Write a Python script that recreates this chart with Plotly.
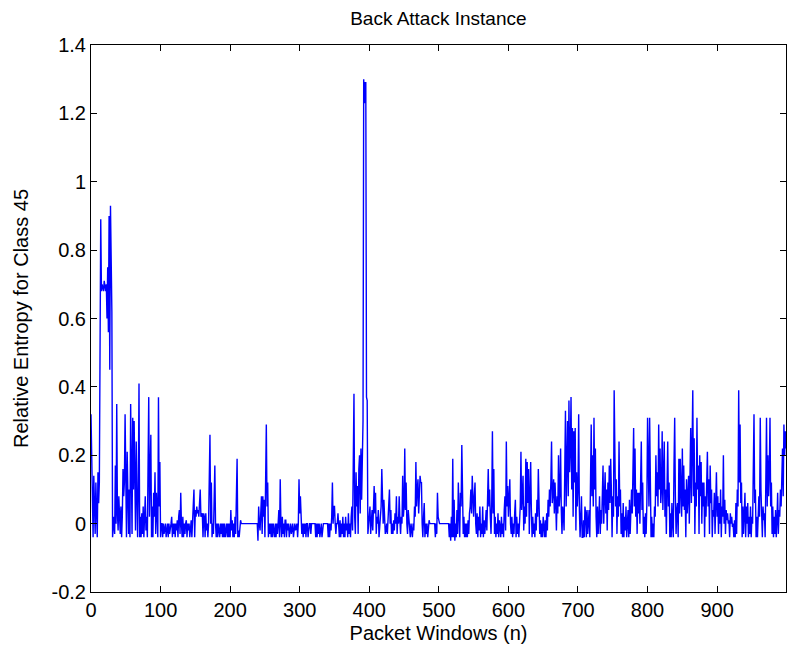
import plotly.graph_objects as go

# Relative entropy per packet window (100 windows per list)
seg_000 = [0.32, 0.15, 0.05, -0.04, 0.14, 0.02, -0.03, 0.12, 0.05, -0.04, 0.15, 0.06, 0.12, 0.55, 0.89, 0.68, 0.70, 0.69, 0.68, 0.71,
           0.69, 0.68, 0.70, 0.60, 0.75, 0.56, 0.90, 0.45, 0.93, 0.64, 0.62, -0.04, 0.00, 0.02, -0.03, 0.17, 0.00, 0.35, 0.03, -0.02,
           0.08, 0.01, -0.03, 0.05, -0.04, 0.02, 0.16, 0.08, 0.12, 0.32, 0.00, -0.04, 0.21, 0.05, -0.03, 0.10, -0.04, 0.35, 0.18, -0.03,
           0.31, 0.10, 0.30, 0.05, -0.02, 0.24, 0.08, -0.04, 0.10, 0.41, -0.04, 0.02, -0.04, 0.03, -0.03, 0.05, -0.04, 0.06, 0.08, -0.02,
           0.02, -0.04, 0.10, 0.37, 0.02, 0.15, 0.26, -0.04, 0.05, -0.04, 0.09, 0.02, 0.15, -0.03, 0.09, 0.03, -0.04, 0.37, 0.05, 0.18]
seg_100 = [-0.04, 0.00, 0.00, -0.04, 0.00, -0.03, 0.00, 0.00, -0.04, 0.00, 0.00, -0.04, 0.00, -0.03, 0.00, 0.00, 0.02, -0.04, 0.00, -0.03,
           0.00, -0.04, 0.00, -0.02, 0.01, -0.04, 0.02, 0.04, -0.03, 0.09, 0.00, -0.04, 0.02, -0.04, 0.00, -0.03, 0.00, 0.01, -0.04, 0.00,
           -0.02, 0.00, -0.04, 0.00, 0.01, -0.04, 0.00, 0.02, 0.10, -0.04, 0.04, 0.02, 0.05, 0.03, 0.04, 0.02, 0.05, 0.10, 0.02, 0.03,
           0.03, -0.04, 0.03, 0.02, -0.04, 0.03, -0.02, 0.00, -0.04, 0.00, 0.12, 0.26, 0.00, 0.12, -0.04, 0.00, -0.03, 0.11, 0.17, 0.00,
           -0.04, 0.00, -0.04, 0.00, -0.04, -0.04, 0.00, -0.03, 0.00, -0.04, 0.00, -0.04, 0.00, -0.04, -0.02, 0.00, -0.04, 0.00, -0.04, 0.00]
seg_200 = [-0.04, 0.04, -0.02, 0.01, -0.04, 0.00, -0.04, 0.02, -0.03, 0.09, 0.19, -0.04, -0.02, -0.04, 0.00, 0.01, 0.00, 0.00, 0.00, 0.00,
           0.00, 0.00, 0.00, 0.00, 0.00, 0.00, 0.00, 0.00, 0.00, 0.00, 0.00, 0.00, 0.00, 0.00, 0.00, 0.00, 0.00, 0.00, 0.00, 0.00,
           -0.05, 0.05, 0.00, -0.02, 0.03, 0.08, -0.03, 0.08, 0.02, 0.07, -0.04, 0.10, 0.29, 0.05, 0.12, -0.04, 0.00, -0.03, 0.00, -0.04,
           0.00, -0.04, 0.00, -0.02, -0.04, 0.00, -0.04, 0.00, -0.03, 0.00, 0.04, -0.04, 0.13, 0.00, -0.04, 0.02, -0.03, 0.00, -0.04, 0.01,
           0.01, -0.04, 0.00, -0.02, 0.00, -0.04, 0.00, 0.00, -0.03, 0.00, 0.00, -0.04, 0.00, 0.00, -0.02, 0.00, 0.00, -0.04, 0.00, 0.13]
seg_300 = [0.03, 0.08, 0.00, -0.03, 0.00, -0.04, 0.00, -0.03, 0.00, -0.04, 0.00, 0.00, -0.04, 0.00, 0.00, 0.00, -0.03, 0.00, 0.00, 0.00,
           0.00, 0.00, 0.00, -0.04, 0.00, -0.04, 0.00, -0.03, 0.00, -0.04, 0.00, 0.00, -0.04, 0.00, 0.00, 0.00, 0.00, 0.00, 0.00, 0.00,
           0.00, -0.04, 0.00, -0.04, 0.00, -0.02, 0.02, 0.12, 0.00, 0.05, 0.05, 0.00, -0.03, 0.00, 0.00, 0.03, 0.00, -0.04, 0.01, -0.04,
           0.00, -0.03, 0.02, -0.04, 0.00, -0.04, 0.02, -0.02, 0.00, -0.04, 0.03, -0.03, 0.00, -0.04, 0.02, 0.05, -0.02, 0.17, 0.38, 0.02,
           -0.03, 0.15, 0.05, 0.11, -0.03, 0.16, 0.20, 0.03, 0.22, 0.07, 0.26, 0.30, 1.30, 1.23, 1.29, 1.29, 0.37, 0.36, -0.03, 0.00]
seg_400 = [0.00, 0.05, -0.03, 0.03, 0.04, -0.02, 0.05, 0.11, 0.03, 0.09, -0.03, 0.02, 0.00, 0.04, -0.04, 0.00, 0.03, 0.05, 0.16, 0.04,
           0.00, 0.07, 0.00, -0.03, -0.02, 0.00, -0.03, 0.02, 0.05, 0.10, 0.00, 0.04, -0.03, 0.00, -0.03, 0.01, -0.02, 0.03, 0.00, 0.08,
           -0.03, 0.02, 0.00, 0.08, 0.01, -0.03, 0.02, 0.00, 0.14, 0.02, 0.05, 0.22, 0.04, 0.12, 0.00, -0.03, 0.04, 0.00, -0.03, -0.04,
           0.00, -0.03, -0.04, 0.00, -0.02, 0.05, 0.02, 0.18, 0.05, 0.10, 0.13, 0.03, 0.13, 0.14, 0.12, 0.12, 0.00, -0.04, 0.02, 0.06,
           -0.04, 0.00, -0.03, 0.00, -0.04, 0.00, 0.01, 0.00, 0.00, 0.00, 0.00, 0.00, 0.00, 0.00, 0.00, -0.04, 0.00, -0.03, 0.09, 0.02]
seg_500 = [0.00, 0.00, 0.00, 0.00, 0.00, 0.00, 0.00, 0.00, 0.00, 0.00, 0.00, 0.00, 0.00, 0.00, 0.00, -0.04, 0.00, -0.05, 0.02, -0.04,
           0.19, -0.04, 0.07, -0.05, 0.00, -0.04, 0.04, -0.03, 0.12, 0.03, -0.04, 0.09, 0.05, 0.23, 0.09, -0.03, 0.02, -0.04, 0.00, -0.04,
           0.00, -0.04, 0.01, -0.03, 0.03, 0.05, 0.10, 0.03, 0.14, 0.10, 0.02, 0.08, 0.12, 0.00, -0.03, 0.03, -0.04, 0.02, -0.02, 0.05,
           -0.04, 0.00, -0.03, 0.05, -0.04, 0.01, -0.03, 0.00, 0.04, -0.02, 0.08, 0.16, 0.05, 0.10, 0.02, -0.03, 0.06, 0.27, 0.03, 0.16,
           -0.03, 0.02, -0.04, 0.00, -0.03, 0.03, -0.04, 0.01, -0.01, -0.04, 0.02, -0.03, 0.00, -0.04, 0.04, 0.08, -0.02, 0.24, 0.05, 0.11]
seg_600 = [0.02, 0.06, 0.13, 0.00, -0.03, 0.02, -0.04, 0.00, -0.03, 0.03, 0.07, -0.04, 0.02, -0.03, 0.00, -0.04, 0.03, 0.05, 0.21, 0.04,
           0.08, 0.14, -0.02, 0.05, 0.00, 0.19, 0.02, 0.18, 0.06, 0.16, -0.03, 0.08, 0.18, 0.04, -0.04, 0.02, -0.03, 0.00, -0.04, 0.03,
           -0.02, 0.07, 0.02, 0.16, 0.04, -0.03, 0.01, -0.04, 0.00, -0.04, 0.02, -0.03, -0.04, 0.01, -0.04, 0.03, -0.02, 0.07, 0.02, 0.10,
           0.05, 0.12, 0.24, 0.06, 0.10, 0.13, 0.03, 0.12, 0.06, -0.02, 0.08, 0.03, 0.20, 0.05, 0.09, 0.22, 0.04, -0.03, 0.05, 0.03,
           -0.02, 0.10, 0.33, 0.05, 0.20, 0.30, 0.08, 0.36, 0.15, 0.22, 0.37, 0.10, 0.28, 0.02, 0.27, 0.12, 0.28, -0.02, 0.15, 0.05]
seg_700 = [0.10, 0.32, 0.04, -0.04, 0.02, 0.08, -0.04, -0.04, 0.01, -0.04, 0.05, 0.03, -0.04, 0.04, -0.03, 0.00, 0.04, -0.04, 0.12, 0.29,
           0.08, 0.20, 0.05, 0.31, 0.10, 0.22, 0.02, -0.04, 0.05, -0.03, 0.02, 0.08, -0.03, 0.04, 0.00, 0.06, 0.17, 0.00, 0.06, 0.15,
           0.03, 0.10, -0.02, 0.12, 0.04, 0.17, 0.06, 0.19, 0.10, -0.04, 0.08, 0.02, 0.39, 0.13, 0.05, 0.13, -0.03, 0.08, 0.02, 0.24,
           0.05, 0.10, -0.03, 0.03, -0.04, 0.06, -0.04, 0.02, -0.02, 0.05, -0.04, 0.00, 0.04, -0.04, 0.07, -0.03, 0.02, 0.10, 0.03, 0.15,
           0.28, 0.05, 0.22, 0.02, 0.10, -0.03, 0.09, 0.03, 0.09, 0.00, 0.09, 0.24, 0.04, 0.12, -0.03, 0.02, -0.04, 0.03, -0.03, 0.06]
seg_800 = [0.31, 0.12, 0.05, 0.31, 0.08, -0.04, 0.02, -0.04, 0.00, -0.04, 0.05, 0.02, 0.20, 0.08, 0.15, 0.05, 0.29, 0.10, 0.22, 0.06,
           0.10, 0.27, 0.04, 0.14, 0.24, 0.02, 0.10, -0.03, 0.08, 0.24, 0.05, 0.12, -0.04, 0.03, -0.04, 0.06, 0.00, -0.04, 0.17, 0.31,
           0.08, -0.03, 0.04, 0.06, -0.04, 0.19, 0.03, 0.19, 0.10, 0.02, 0.22, 0.05, 0.17, 0.04, 0.10, -0.04, 0.13, 0.03, 0.08, 0.14,
           0.00, 0.12, 0.28, 0.06, 0.20, 0.39, 0.08, 0.25, -0.03, 0.12, 0.05, 0.31, 0.10, 0.17, -0.03, 0.20, 0.08, 0.18, 0.00, 0.12,
           0.05, 0.12, -0.04, 0.08, 0.02, 0.10, 0.21, 0.05, 0.13, -0.03, 0.17, 0.06, 0.10, -0.04, 0.04, 0.02, 0.09, -0.03, 0.05, 0.15]
seg_900 = [0.02, 0.08, -0.03, 0.06, 0.00, 0.10, -0.04, 0.05, 0.02, 0.20, 0.00, 0.07, -0.03, 0.04, 0.01, 0.03, 0.00, 0.01, -0.04, 0.03,
           0.00, 0.02, -0.01, 0.00, -0.04, 0.01, -0.04, 0.06, -0.03, 0.10, 0.05, 0.39, 0.12, 0.29, 0.06, 0.12, -0.04, 0.05, -0.03, 0.03,
           0.09, -0.04, 0.05, 0.00, 0.06, -0.04, 0.02, -0.03, 0.05, -0.04, 0.02, 0.00, 0.12, 0.32, 0.06, 0.10, -0.04, 0.02, -0.04, 0.04,
           0.08, 0.02, 0.31, 0.10, 0.02, -0.04, 0.05, 0.01, 0.03, -0.04, 0.12, 0.31, 0.05, 0.20, 0.08, 0.15, 0.31, 0.05, 0.12, -0.03,
           0.05, -0.04, 0.02, -0.03, 0.04, -0.04, 0.01, 0.09, -0.03, 0.04, 0.02, 0.10, 0.05, 0.15, 0.22, 0.08, 0.29, 0.20, 0.27, 0.22]

entropy = seg_000 + seg_100 + seg_200 + seg_300 + seg_400 + seg_500 + seg_600 + seg_700 + seg_800 + seg_900
windows = list(range(len(entropy)))

x_tick_vals = [0, 100, 200, 300, 400, 500, 600, 700, 800, 900]
x_tick_text = ["0", "100", "200", "300", "400", "500", "600", "700", "800", "900"]
y_tick_vals = [-0.2, 0, 0.2, 0.4, 0.6, 0.8, 1.0, 1.2, 1.4]
y_tick_text = ["-0.2", "0", "0.2", "0.4", "0.6", "0.8", "1", "1.2", "1.4"]

FONT = "Liberation Sans, Arial, Helvetica, sans-serif"

fig = go.Figure()
fig.add_trace(go.Scatter(x=windows, y=entropy, mode="lines",
                         line=dict(color="#0000FF", width=1.4), showlegend=False))

axis_common = dict(showline=True, linecolor="#000000", linewidth=1, mirror="ticks",
                   ticks="inside", ticklen=6, tickwidth=1, tickcolor="#000000",
                   showgrid=False, zeroline=False,
                   tickfont=dict(family=FONT, size=20, color="#000000"))

fig.update_layout(
    width=787, height=654,
    margin=dict(l=91, r=1, t=45, b=62),
    paper_bgcolor="#FFFFFF", plot_bgcolor="#FFFFFF",
    title=dict(text="Back Attack Instance", x=0.557, xanchor="center",
               y=1 - 18 / 654, yanchor="middle", yref="container",
               font=dict(family=FONT, size=19, color="#000000")),
    xaxis=dict(range=[0, 999], tickvals=x_tick_vals, ticktext=x_tick_text,
               title=dict(text="Packet Windows (n)", standoff=5,
                          font=dict(family=FONT, size=20, color="#000000")),
               **axis_common),
    yaxis=dict(range=[-0.2, 1.4], tickvals=y_tick_vals, ticktext=y_tick_text,
               title=dict(text="Relative Entropy for Class 45", standoff=17,
                          font=dict(family=FONT, size=20, color="#000000")),
               **axis_common),
)

fig.write_html("out.html", config={"displayModeBar": False},
               post_script="document.body.style.margin='0';document.body.style.overflow='hidden';")
